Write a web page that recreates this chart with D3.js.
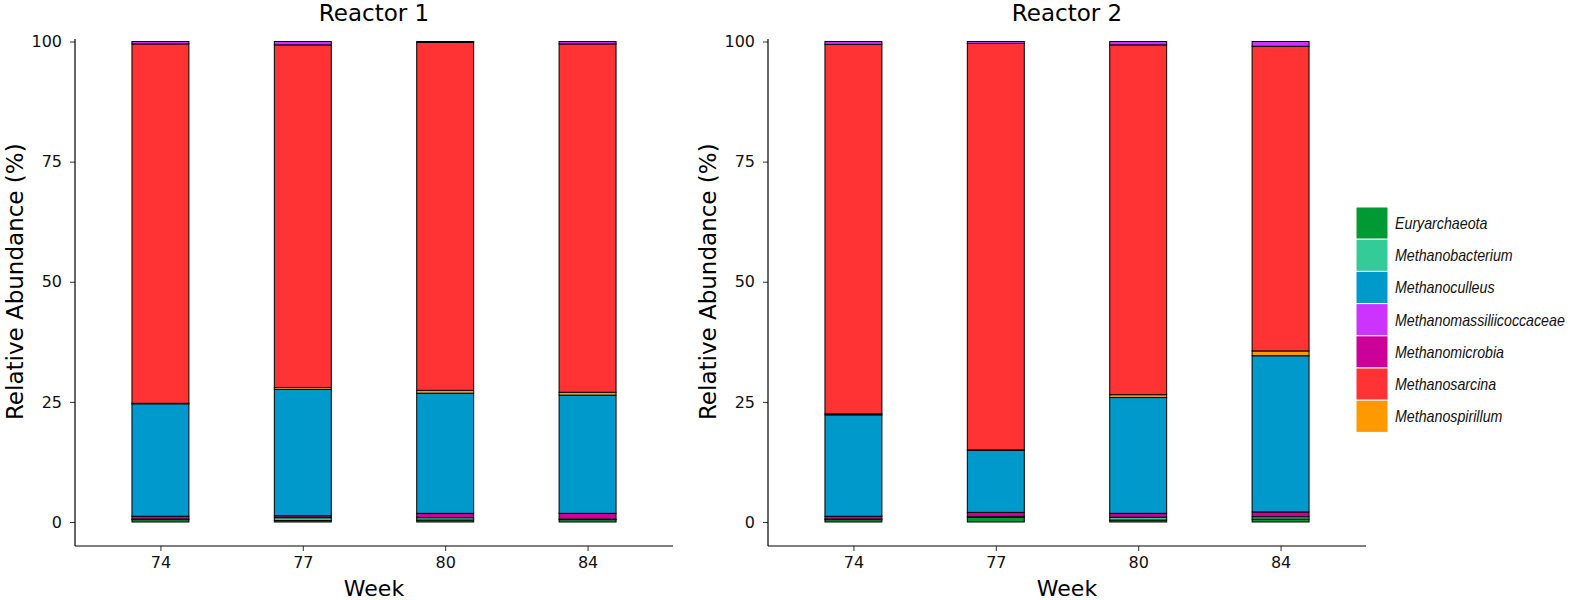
<!DOCTYPE html>
<html><head><meta charset="utf-8">
<script src="https://cdn.jsdelivr.net/npm/d3@7"></script>
<style>body{margin:0;background:#fff;} svg{display:block;}</style>
</head><body>
<svg id="chart" width="1570" height="600"></svg>
<script>
const weeks = ["74", "77", "80", "84"];
const taxa = ["Euryarchaeota","Methanobacterium","Methanoculleus","Methanomassiliicoccaceae","Methanomicrobia","Methanosarcina","Methanospirillum"];
const taxaColors = ["#009933","#33CC99","#0099CC","#CC33FF","#CC0099","#FF3333","#FF9900"];
// stacking order from bottom to top
const stackOrder = ["Euryarchaeota","Methanobacterium","Methanomicrobia","Methanoculleus","Methanospirillum","Methanosarcina","Methanomassiliicoccaceae"];
const yTicks = [0, 25, 50, 75, 100];
const panelTitles = ["Reactor 1", "Reactor 2"];

// values per week (74, 77, 80, 84)
const r1Euryarchaeota = [0.5, 0.3, 0.4, 0.5];
const r1Methanobacterium = [0.1, 0.6, 0.5, 0.1];
const r1Methanomicrobia = [0.6, 0.4, 0.9, 1.2];
const r1Methanoculleus = [23.4, 26.3, 25.0, 24.6];
const r1Methanospirillum = [0.1, 0.4, 0.6, 0.6];
const r1Methanosarcina = [74.8, 71.3, 72.4, 72.5];
const r1Methanomassiliicoccaceae = [0.5, 0.7, 0.2, 0.5];

const r2Euryarchaeota = [0.5, 1.0, 0.4, 0.6];
const r2Methanobacterium = [0.1, 0.1, 0.6, 0.5];
const r2Methanomicrobia = [0.6, 0.9, 0.8, 1.0];
const r2Methanoculleus = [21.1, 12.9, 24.1, 32.5];
const r2Methanospirillum = [0.2, 0.1, 0.6, 1.0];
const r2Methanosarcina = [76.9, 84.6, 72.8, 63.4];
const r2Methanomassiliicoccaceae = [0.6, 0.4, 0.7, 1.0];

const reactors = [
  {Euryarchaeota:r1Euryarchaeota, Methanobacterium:r1Methanobacterium, Methanomicrobia:r1Methanomicrobia, Methanoculleus:r1Methanoculleus, Methanospirillum:r1Methanospirillum, Methanosarcina:r1Methanosarcina, Methanomassiliicoccaceae:r1Methanomassiliicoccaceae},
  {Euryarchaeota:r2Euryarchaeota, Methanobacterium:r2Methanobacterium, Methanomicrobia:r2Methanomicrobia, Methanoculleus:r2Methanoculleus, Methanospirillum:r2Methanospirillum, Methanosarcina:r2Methanosarcina, Methanomassiliicoccaceae:r2Methanomassiliicoccaceae}
];

const svg = d3.select("#chart");
const color = d3.scaleOrdinal().domain(taxa).range(taxaColors);

const panels = [
  {x0: 75, x1: 673},
  {x0: 768, x1: 1366}
];
const yTop = 41.5, yZero = 522, axisBottom = 546, axisTop = 39;
const y = d3.scaleLinear().domain([0, 100]).range([yZero, yTop]);
const font = "DejaVu Sans, sans-serif";

panels.forEach((p, pi) => {
  const g = svg.append("g");
  // emulate ggplot discrete expansion: step = width/4.2, first center at 0.6 step
  const step = (p.x1 - p.x0) / 4.2;
  const xc = d3.scalePoint().domain(weeks).range([p.x0 + 0.6 * step, p.x1 - 0.6 * step]);
  const bw = 0.4 * step;

  const rows = weeks.map((w, i) => {
    const r = {week: w};
    stackOrder.forEach(t => r[t] = reactors[pi][t][i]);
    return r;
  });
  const series = d3.stack().keys(stackOrder)(rows);

  g.selectAll("g.s").data(series).join("g").attr("class", "s")
    .attr("fill", d => color(d.key))
    .selectAll("rect").data(d => d).join("rect")
    .attr("x", d => xc(d.data.week) - bw / 2)
    .attr("width", bw)
    .attr("y", d => y(d[1]))
    .attr("height", d => Math.max(0, y(d[0]) - y(d[1])))
    .attr("stroke", "#000").attr("stroke-width", 1);

  // y axis
  const ya = d3.axisLeft(y).tickValues(yTicks).tickSize(5).tickPadding(8);
  const yg = g.append("g").attr("transform", `translate(${p.x0},0)`).call(ya);
  yg.select(".domain").remove();
  yg.selectAll(".tick line").attr("stroke", "#333");
  yg.selectAll("text").attr("font-family", font).attr("font-size", 16).attr("fill", "#111");
  g.append("line").attr("x1", p.x0).attr("x2", p.x0).attr("y1", axisTop).attr("y2", axisBottom).attr("stroke", "#000").attr("stroke-width", 1.2);

  // x axis
  const xa = d3.axisBottom(xc).tickSize(5).tickPadding(6);
  const xg = g.append("g").attr("transform", `translate(0,${axisBottom})`).call(xa);
  xg.select(".domain").remove();
  xg.selectAll(".tick line").attr("stroke", "#333");
  xg.selectAll("text").attr("font-family", font).attr("font-size", 16).attr("fill", "#111");
  g.append("line").attr("x1", p.x0).attr("x2", p.x1).attr("y1", axisBottom).attr("y2", axisBottom).attr("stroke", "#000").attr("stroke-width", 1.2);

  // titles
  g.append("text").attr("x", (p.x0 + p.x1) / 2).attr("y", 21).attr("text-anchor", "middle")
    .attr("font-family", font).attr("font-size", 23).attr("fill", "#000").text(panelTitles[pi]);
  g.append("text").attr("x", (p.x0 + p.x1) / 2).attr("y", 596).attr("text-anchor", "middle")
    .attr("font-family", font).attr("font-size", 22).attr("fill", "#000").text("Week");
  g.append("text").attr("transform", `translate(${p.x0 - 52},${(yTop + yZero) / 2}) rotate(-90)`)
    .attr("text-anchor", "middle").attr("font-family", font).attr("font-size", 23).attr("fill", "#000")
    .text("Relative Abundance (%)");
});

// legend
const lg = svg.append("g").attr("transform", "translate(1356,207)");
const keyH = 32.2;
taxa.forEach((t, i) => {
  lg.append("rect").attr("x", 0).attr("y", i * keyH).attr("width", 32).attr("height", keyH)
    .attr("fill", color(t)).attr("stroke", "#fff").attr("stroke-width", 1);
});
const legText = lg.append("g").attr("class", "legtext");
const texts = legText.selectAll("text").data(taxa).join("text")
  .attr("x", 0).attr("y", (d, i) => i * keyH + keyH / 2 + 6)
  .attr("font-family", "Liberation Sans Narrow, Liberation Sans, Arial, sans-serif").attr("font-style", "italic")
  .attr("font-size", 17).attr("fill", "#111").text(d => d);
// fit the longest label to the reference width (~170px)
let maxW = 0;
texts.each(function() { maxW = Math.max(maxW, this.getComputedTextLength()); });
const sx = Math.min(1, 170 / maxW);
legText.attr("transform", `translate(39,0) scale(${sx},1)`);
</script>
</body></html>
